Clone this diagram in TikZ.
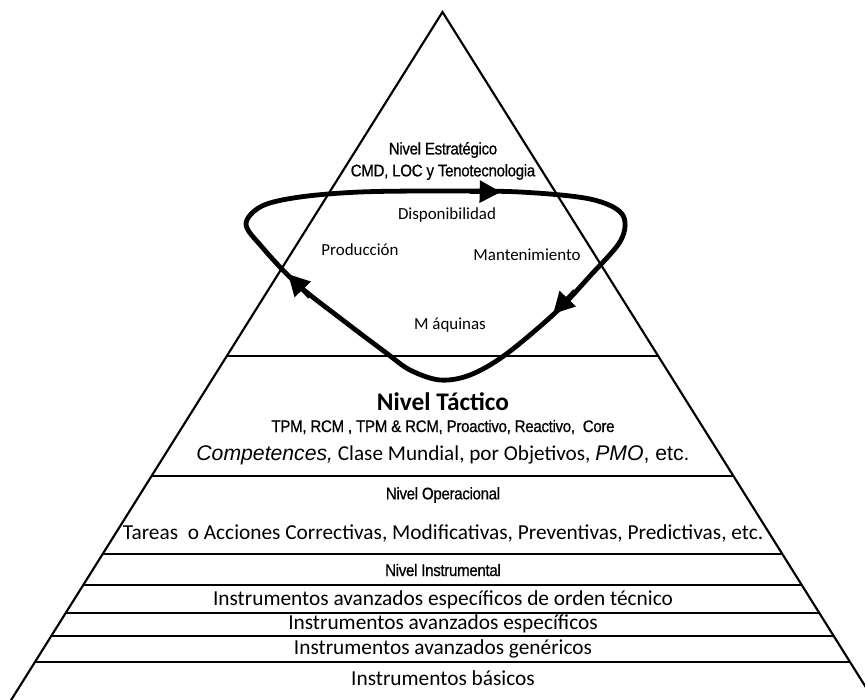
\documentclass[tikz,border=0pt]{standalone}
\usepackage{fontspec}
\setmainfont{Carlito}
\newfontfamily\narrowsans{Liberation Sans}[FakeStretch=0.9, LetterSpace=-2, FakeBold=0.7]
\newfontfamily\arialfont{Liberation Sans}
\usetikzlibrary{arrows.meta}

\begin{document}
\begin{tikzpicture}[x=0.75pt,y=-0.75pt,
  edge/.style={line width=1.6pt, line join=miter},
  cycleline/.style={line width=3.6pt, line join=round},
  headtip/.style={line width=3.6pt, -{Triangle[length=16pt,width=16pt]}},
  lbl/.style={inner sep=0pt, anchor=center},
  narrowtxt/.style={lbl, font=\narrowsans\fontsize{12.6}{14}\selectfont},
  looptxt/.style={lbl, font=\fontsize{12.7}{15}\selectfont},
  tiertxt/.style={lbl, font=\fontsize{16}{18}\selectfont},
]
\useasboundingbox (0,0) rectangle (865,700);
\clip (0,0) rectangle (865,700);

% pyramid outline (base runs past the page edge)
\coordinate (apex) at (442.5,12);
\coordinate (bl) at (-1.4,720);
\coordinate (br) at (886.4,720);
\draw[edge] (bl) -- (apex) -- (br);

% horizontal dividers between the levels
\foreach \yy/\ww in {356/1.5, 476/2.1, 554/2.1, 585/1.3, 613/1.3, 636/1.3, 662/1.3}{
  \pgfmathsetmacro\halfw{0.627*(\yy-12)}
  \draw[line width=\ww pt] (442.5-\halfw,\yy) -- (442.5+\halfw,\yy);
}

% strategic level texts
\node[narrowtxt] (estr) at (443,150) {Nivel Estratégico};
\node[narrowtxt] (cmd) at (443,172) {CMD, LOC y Tenotecnologia};

% closed cycle
\draw[cycleline]
  plot[smooth cycle, tension=0.55] coordinates {
    (440,191) (520,192) (590,199) (622,214) (621,240) (590,276) (555,313)
    (505,355) (470,375) (440,380) (410,370) (385,352) (340,318) (297,284)
    (262,247) (246,224) (262,206) (300,197) (360,192)};

% arrowheads along the cycle
\coordinate (topA) at (470,191.4);
\coordinate (topB) at (501,192);
\coordinate (rightA) at (575,291);
\coordinate (rightB) at (553,314);
\coordinate (leftA) at (310,297);
\coordinate (leftB) at (288,274);
\draw[headtip] (topA) -- (topB);
\draw[headtip] (rightA) -- (rightB);
\draw[headtip] (leftA) -- (leftB);

\node[looptxt] (disp) at (447,215) {Disponibilidad};
\node[looptxt] (prod) at (360,250) {Producción};
\node[looptxt] (mant) at (527,255) {Mantenimiento};
\node[looptxt] (maq) at (450,325) {M áquinas};

% tactical level
\node[lbl, font=\bfseries\fontsize{19}{22}\selectfont] (tact) at (443,402) {Nivel Táctico};
\node[narrowtxt] (tpm) at (443,427) {TPM, RCM , TPM \& RCM, Proactivo, Reactivo,\ \ Core};
\node[lbl, font=\fontsize{15.9}{18}\selectfont] (comp) at (443,455)
  {{\arialfont\itshape Competences,} Clase Mundial, por Objetivos, {\arialfont\itshape PMO}{\arialfont , etc.}};

% operational level
\node[narrowtxt] (oper) at (443,495) {Nivel Operacional};
\node[tiertxt] (tareas) at (443,533) {Tareas\ \ o Acciones Correctivas, Modificativas, Preventivas, Predictivas, etc.};

% instrumental level
\node[narrowtxt] (instr) at (443,570) {Nivel Instrumental};
\node[tiertxt] (i1) at (443,600) {Instrumentos avanzados específicos de orden técnico};
\node[tiertxt] (i2) at (443,624) {Instrumentos avanzados específicos};
\node[tiertxt] (i3) at (443,649) {Instrumentos avanzados genéricos};
\node[tiertxt] (i4) at (443,678) {Instrumentos básicos};
\end{tikzpicture}
\end{document}
